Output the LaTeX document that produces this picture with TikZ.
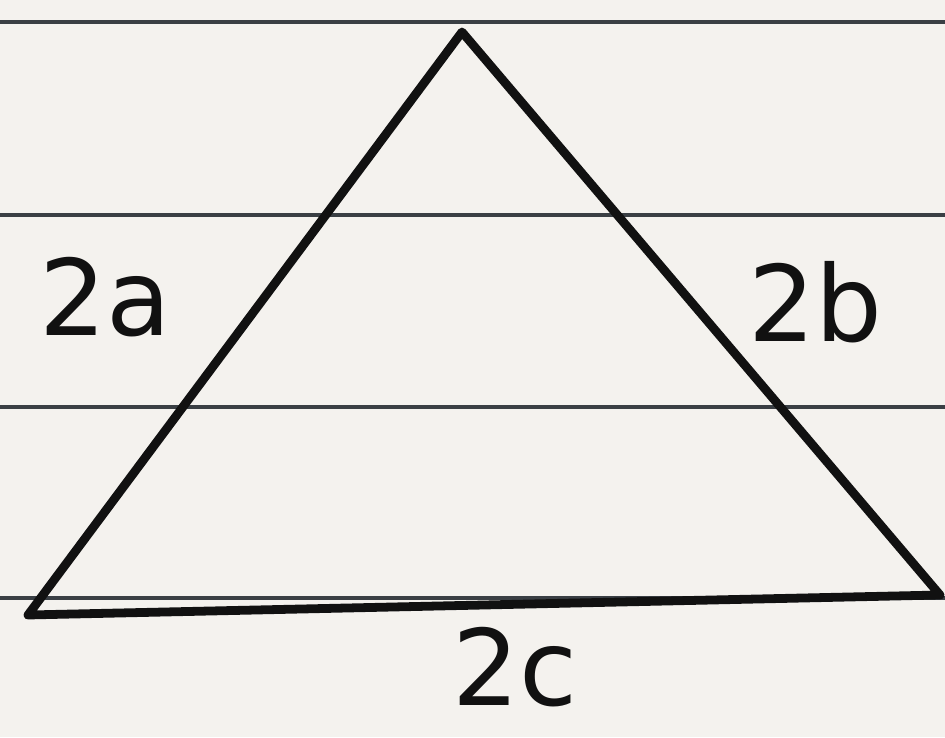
\documentclass[tikz,border=0pt]{standalone}
\usepackage{tikz}
\usepackage{fontspec}
\setmainfont{DejaVu Sans}
\usetikzlibrary{positioning}
\definecolor{paper}{HTML}{F4F2EE}
\definecolor{rule}{HTML}{3A3F44}
\definecolor{ink}{HTML}{111111}

\begin{document}
\begin{tikzpicture}[
  ruleline/.style={draw=rule, line width=2pt},
  side/.style={draw=ink, line width=5pt, line join=round, line cap=round},
  lbl/.style={font=\fontsize{60}{60}\selectfont, text=ink, inner sep=0pt}
]
\fill[paper] (0,0) rectangle (18.9,14.74);
\useasboundingbox (0,0) rectangle (18.9,14.74);
% ruled paper
\foreach \y in {14.3, 10.44, 6.6, 2.78}
  \draw[ruleline] (0,\y) -- (18.9,\y);
% triangle
\coordinate (top) at (9.24,14.1);
\coordinate (bl) at (0.56,2.44);
\coordinate (br) at (18.8,2.84);
\draw[side] (top) -- (br) -- (bl) -- cycle;
% side labels
\node[lbl] (sa) at (2.1,8.8) {2a};
\node[lbl] (sb) at (16.3,8.7) {2b};
\node[lbl] (sc) at (10.3,1.4) {2c};
\end{tikzpicture}
\end{document}
